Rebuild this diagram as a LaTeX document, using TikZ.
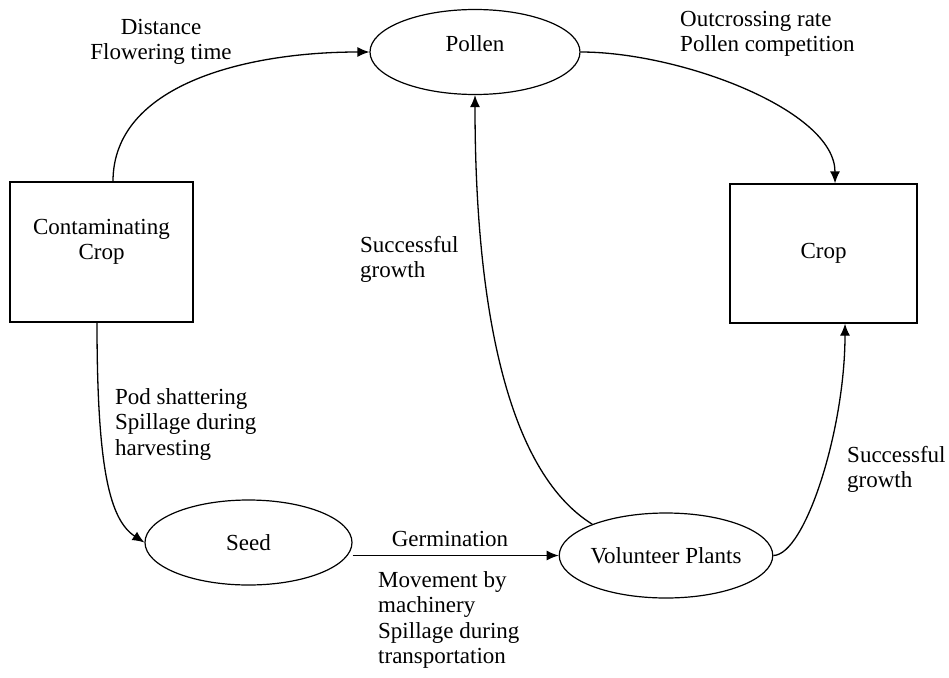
\documentclass[tikz,border=0pt]{standalone}
\usepackage{fontspec}
\setmainfont{Liberation Serif}
\usetikzlibrary{shapes.geometric,arrows.meta}
\begin{document}
\begin{tikzpicture}[x=1pt,y=-1pt,
  every node/.style={inner sep=0pt, font=\fontsize{23}{25.5}\selectfont},
  box/.style={draw, line width=1.3pt, rectangle},
  oval/.style={draw, line width=1.2pt, ellipse, minimum height=85pt},
  lbl/.style={align=left, anchor=north west},
  conn/.style={line width=1.3pt, -{Latex[length=12pt,width=10pt]}}
]
\useasboundingbox[fill=white] (0,0) rectangle (949,677);

% nodes
\node[box, minimum width=183pt, minimum height=140pt] (cc) at (101.5,252) {};
\node[align=center, anchor=north] (cct) at (101.5,219) {Contaminating\\Crop};
\node[box, minimum width=187pt, minimum height=139pt] (crop) at (823.5,253.5) {Crop};
\node[oval, minimum width=210pt, text height=15pt, text depth=15pt] (pol) at (475,52) {Pollen};
\node[oval, minimum width=207pt] (seed) at (248.5,542.5) {Seed};
\node[oval, minimum width=208pt] (vol) at (666,555.5) {Volunteer Plants};

% connectors
\draw[conn] ([xshift=11.5pt]cc.north) .. controls (113,85) and (245,52) .. (pol.west);
\draw[conn] (pol.east) .. controls (680,52) and (835,110) .. ([xshift=11.5pt]crop.north);
\draw[conn] ([xshift=-4.5pt]cc.south) .. controls (97,470) and (110,520) .. (seed.west);
\draw[conn] (vol.west -| seed.east) -- (vol.west);
\draw[conn] (vol.157) .. controls (505,470) and (475,300) .. (pol.south);
\draw[conn] (vol.east) .. controls (805,555) and (845,430) .. ([xshift=21.5pt]crop.south);

% labels
\node[align=center, anchor=north] (l1) at (161,19) {Distance\\Flowering time};
\node[lbl] (l2) at (680,11) {Outcrossing rate\\Pollen competition};
\node[lbl] (l3) at (360,236) {Successful\\growth};
\node[lbl] (l4) at (115,388) {Pod shattering\\Spillage during\\harvesting};
\node[anchor=base] (l5) at (450,546) {Germination};
\node[lbl] (l6) at (378,571) {Movement by\\machinery\\Spillage during\\transportation};
\node[lbl] (l7) at (847,446) {Successful\\growth};
\end{tikzpicture}
\end{document}
